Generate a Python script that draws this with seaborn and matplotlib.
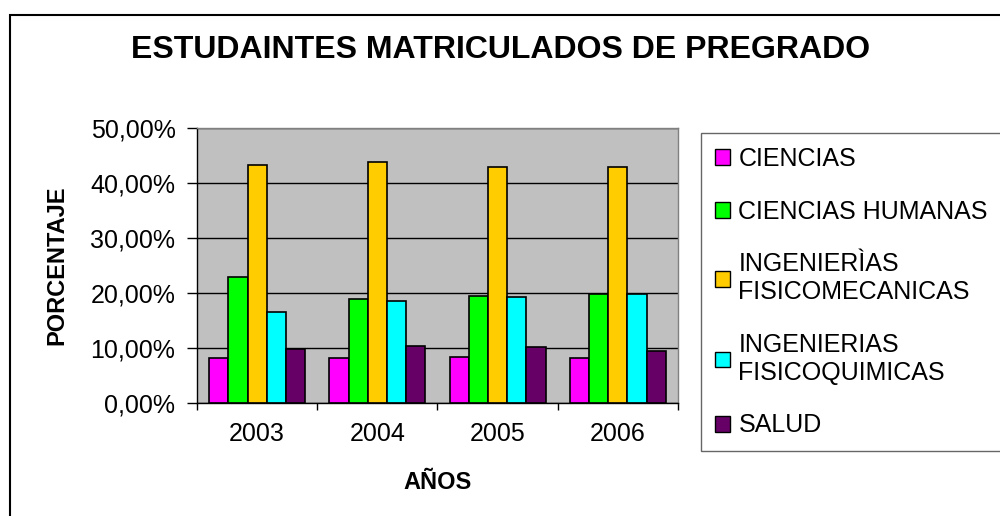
import pandas as pd
import numpy as np
import seaborn as sns
import matplotlib.pyplot as plt
from matplotlib.patches import Rectangle

# Values (percent)
years = ['2003', '2004', '2005', '2006']
areas = ['CIENCIAS', 'CIENCIAS HUMANAS', 'INGENIERÌAS\nFISICOMECANICAS',
         'INGENIERIAS\nFISICOQUIMICAS', 'SALUD']
ciencias = [8.1, 8.1, 8.4, 8.1]
humanas = [22.9, 18.9, 19.5, 19.9]
fisicomecanicas = [43.2, 43.9, 42.9, 42.9]
fisicoquimicas = [16.5, 18.6, 19.2, 19.9]
salud = [9.8, 10.4, 10.1, 9.5]
colors = ['#FF00FF', '#00FF00', '#FFCC00', '#00FFFF', '#660066']

series = [ciencias, humanas, fisicomecanicas, fisicoquimicas, salud]
rows = []
for area, vals in zip(areas, series):
    for y, v in zip(years, vals):
        rows.append({'year': y, 'area': area, 'value': v})
df = pd.DataFrame(rows)

sns.set_style('white')
plt.rcParams['font.family'] = ['Liberation Sans', 'DejaVu Sans']
plt.rcParams['text.color'] = 'black'
plt.rcParams['axes.labelcolor'] = 'black'
plt.rcParams['xtick.color'] = 'black'
plt.rcParams['ytick.color'] = 'black'

fig = plt.figure(figsize=(10, 5.16), dpi=100)
ax = fig.add_axes([0.197, 0.219, 0.481, 0.533])

sns.barplot(data=df, x='year', y='value', hue='area', hue_order=areas,
            palette=colors, edgecolor='black', linewidth=1.2, width=0.8,
            saturation=1, ax=ax, legend=False)

ax.set_facecolor('#C0C0C0')
ax.set_ylim(0, 50)
ax.set_xlim(-0.5, 3.5)
ax.set_yticks(np.arange(0, 51, 10))
ax.set_yticklabels([f'{v:.2f}%'.replace('.', ',') for v in np.arange(0, 51, 10)])
ax.yaxis.grid(True, color='black', linewidth=1)
ax.set_axisbelow(True)

# ticks between categories, labels centered
ax.set_xticks(np.arange(-0.5, 4, 1))
ax.set_xticklabels([])
ax.set_xticks(range(4), minor=True)
ax.set_xticklabels(years, minor=True)
ax.tick_params(axis='x', which='major', length=5, width=1, direction='out', bottom=True)
ax.tick_params(axis='x', which='minor', length=0, pad=14, labelsize=18)
ax.tick_params(axis='y', length=7.5, width=1, direction='out', left=True, labelsize=18, pad=8)

for s in ['top', 'right']:
    ax.spines[s].set_color('#808080')
for s in ['left', 'bottom']:
    ax.spines[s].set_color('black')
for s in ax.spines.values():
    s.set_linewidth(1)

ax.set_xlabel('AÑOS', fontsize=17, fontweight='bold', labelpad=18)
ax.set_ylabel('PORCENTAJE', fontsize=17, fontweight='bold', labelpad=16)

fig.text(0.501, 0.903, 'ESTUDAINTES MATRICULADOS DE PREGRADO', ha='center', va='center',
         fontsize=23, fontweight='bold')

handles = [Rectangle((0, 0), 1, 1, facecolor=c, edgecolor='black', linewidth=1) for c in colors]
leg = fig.legend(handles, areas, loc='upper left', bbox_to_anchor=(0.701, 0.742),
                 frameon=True, fancybox=False, fontsize=18, handlelength=0.6,
                 handleheight=0.6, handletextpad=0.35, labelspacing=1.15,
                 borderpad=0.55, borderaxespad=0)
leg.get_frame().set_edgecolor('#404040')
leg.get_frame().set_linewidth(1)

fig.patches.append(Rectangle((0.010, -0.01), 1.0, 1 - 0.029 + 0.01, transform=fig.transFigure,
                             fill=False, edgecolor='black', linewidth=1.5))

fig.savefig('out.png', dpi=100)
